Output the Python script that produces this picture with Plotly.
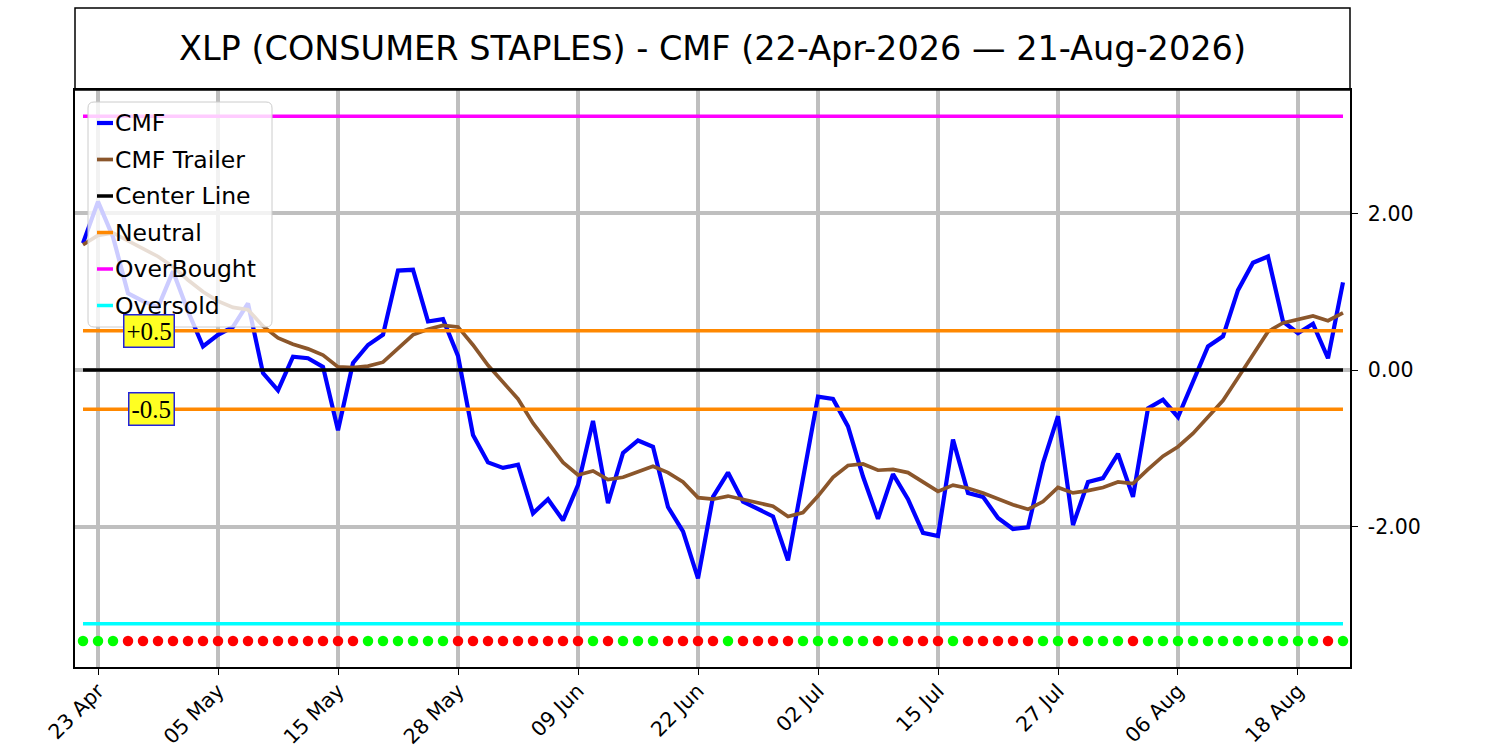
import pandas as pd
import plotly.graph_objects as go

TITLE = "XLP (CONSUMER STAPLES) - CMF (22-Apr-2026 — 21-Aug-2026)"

# trading days 22-Apr-2026 .. 21-Aug-2026 (NYSE holidays dropped)
HOLIDAYS = ["2026-05-25", "2026-06-19", "2026-07-03"]
dates = [d.strftime("%Y-%m-%d") for d in
         pd.bdate_range("2026-04-22", "2026-08-21", freq="C", holidays=HOLIDAYS)]

tick_dates = ["2026-04-23", "2026-05-05", "2026-05-15", "2026-05-28", "2026-06-09",
              "2026-06-22", "2026-07-02", "2026-07-15", "2026-07-27", "2026-08-06",
              "2026-08-18"]
tick_labels = ["23 Apr", "05 May", "15 May", "28 May", "09 Jun", "22 Jun",
               "02 Jul", "15 Jul", "27 Jul", "06 Aug", "18 Aug"]

cmf = [1.62, 2.15, 1.70, 0.98, 0.88, 0.80, 1.26, 0.75, 0.30, 0.45,
       0.55, 0.85, -0.04, -0.26, 0.17, 0.15, 0.04, -0.77, 0.09, 0.32,
       0.45, 1.27, 1.28, 0.62, 0.65, 0.18, -0.83, -1.18, -1.25, -1.21,
       -1.83, -1.65, -1.92, -1.47, -0.65, -1.70, -1.06, -0.90, -0.98, -1.75,
       -2.06, -2.66, -1.62, -1.31, -1.68, -1.77, -1.87, -2.43, -1.35, -0.34,
       -0.37, -0.72, -1.36, -1.90, -1.33, -1.65, -2.08, -2.12, -0.89, -1.57,
       -1.62, -1.89, -2.03, -2.01, -1.19, -0.59, -1.98, -1.43, -1.38, -1.07,
       -1.62, -0.49, -0.38, -0.60, -0.15, 0.30, 0.43, 1.02, 1.37, 1.45,
       0.62, 0.47, 0.59, 0.15, 1.12]

cmf_trailer = [1.60, 1.72, 1.75, 1.65, 1.55, 1.45, 1.32, 1.15, 1.00, 0.88,
               0.80, 0.77, 0.56, 0.41, 0.33, 0.27, 0.19, 0.04, 0.03, 0.05,
               0.10, 0.27, 0.45, 0.52, 0.57, 0.55, 0.32, 0.06, -0.16, -0.37,
               -0.68, -0.93, -1.18, -1.34, -1.29, -1.40, -1.37, -1.30, -1.23, -1.31,
               -1.43, -1.63, -1.65, -1.61, -1.65, -1.69, -1.74, -1.87, -1.82, -1.61,
               -1.37, -1.22, -1.20, -1.28, -1.27, -1.31, -1.43, -1.55, -1.47, -1.51,
               -1.57, -1.65, -1.72, -1.78, -1.68, -1.50, -1.57, -1.54, -1.50, -1.43,
               -1.45, -1.27, -1.10, -0.98, -0.81, -0.60, -0.39, -0.10, 0.20, 0.49,
               0.60, 0.65, 0.69, 0.63, 0.73]

# G = bullish dot, R = bearish dot (row under the chart)
signal = list("GGG" "RRRRRRRRRRRRRRRR" "GGGGGG" "RRRRRRRRR" "G" "R" "GGG" "RRRR"
              "G" "RRRR" "GGGGG" "R" "G" "RRR" "G" "RRRRR" "GG" "R" "GGG" "R"
              "GGGGGGGGGGGG" "R" "G")

CENTER = 0.0
NEUTRAL = 0.5
OVERBOUGHT = 3.24
OVERSOLD = -3.24
SIGNAL_ROW = -3.46

n = len(dates)
fig = go.Figure()

series = [
    ("CMF", cmf, "#0000ff", 4.2),
    ("CMF Trailer", cmf_trailer, "#8b562b", 3.7),
    ("Center Line", [CENTER] * n, "black", 3.5),
    ("Neutral", [NEUTRAL] * n, "#ff8800", 3.5),
    ("Neutral", [-NEUTRAL] * n, "#ff8800", 3.5),
    ("OverBought", [OVERBOUGHT] * n, "#ff00ff", 3.5),
    ("Oversold", [OVERSOLD] * n, "#00ffff", 3.5),
]
for name, ys, color, width in series:
    fig.add_trace(go.Scatter(x=dates, y=ys, name=name, mode="lines", showlegend=False,
                             line=dict(color=color, width=width)))

fig.add_trace(go.Scatter(
    x=dates, y=[SIGNAL_ROW] * n, mode="markers", showlegend=False,
    marker=dict(size=10.5, color=["#00ff00" if s == "G" else "#ff0000" for s in signal],
                line=dict(width=0)),
))

# plot box in pixels: x 75..1350, y 90..667
L, T, W, H = 75, 90, 1275, 577


def px(x):
    return (x - L) / W


def py(y):
    return 1 - (y - T) / H


# matplotlib-style legend, drawn by hand so the line samples stay short
x0, x1, y0, y1, r = 88, 272, 102, 327, 6
path = (f"M{px(x0 + r)},{py(y0)} L{px(x1 - r)},{py(y0)} "
        f"Q{px(x1)},{py(y0)} {px(x1)},{py(y0 + r)} L{px(x1)},{py(y1 - r)} "
        f"Q{px(x1)},{py(y1)} {px(x1 - r)},{py(y1)} L{px(x0 + r)},{py(y1)} "
        f"Q{px(x0)},{py(y1)} {px(x0)},{py(y1 - r)} L{px(x0)},{py(y0 + r)} "
        f"Q{px(x0)},{py(y0)} {px(x0 + r)},{py(y0)} Z")
fig.add_shape(type="path", path=path, xref="paper", yref="paper", layer="above",
              fillcolor="rgba(255,255,255,0.8)", line=dict(color="#cccccc", width=1))
seen = []
for name, _, color, width in series:
    if name in seen:
        continue
    cy = 123 + 36.5 * len(seen)
    seen.append(name)
    fig.add_shape(type="line", xref="paper", yref="paper", layer="above",
                  x0=px(97), x1=px(113), y0=py(cy), y1=py(cy),
                  line=dict(color=color, width=width))
    fig.add_annotation(xref="paper", yref="paper", x=px(113), y=py(cy), text=name,
                       xanchor="left", yanchor="middle", showarrow=False,
                       font=dict(family="DejaVu Sans", size=23.5, color="black"))

label_style = dict(xref="x", yref="y", xanchor="right", showarrow=False,
                   font=dict(family="Liberation Serif", size=25, color="black"),
                   bgcolor="#ffff22", bordercolor="#2222dd", borderwidth=1.5, borderpad=2)
fig.add_annotation(x=6.13, y=NEUTRAL, text="+0.5", **label_style)
fig.add_annotation(x=6.13, y=-NEUTRAL, text="-0.5", **label_style)

# boxed title strip above the plot
fig.add_shape(type="rect", xref="paper", yref="paper", x0=0, x1=1, y0=1, y1=py(8),
              line=dict(color="black", width=1.5), layer="above")
fig.add_annotation(xref="paper", yref="paper", x=0.5, y=py(49), text=TITLE,
                   showarrow=False, yanchor="middle",
                   font=dict(family="DejaVu Sans", size=33.5, color="black"))

grid = "#bfbfbf"
fig.update_layout(
    width=1500, height=750, autosize=False,
    margin=dict(l=L, r=1500 - L - W, t=T, b=750 - T - H),
    paper_bgcolor="white", plot_bgcolor="white",
    font=dict(family="DejaVu Sans", color="black"),
    showlegend=False,
    xaxis=dict(type="category", categoryorder="array", categoryarray=dates,
               range=[-0.533, n - 1 + 0.467], automargin=False,
               tickmode="array", tickvals=tick_dates, ticktext=tick_labels,
               tickangle=-45, tickfont=dict(size=20.5), ticklabelstandoff=-4,
               ticks="outside", ticklen=6, tickcolor="black",
               showgrid=True, gridcolor=grid, gridwidth=4,
               showline=True, linecolor="black", linewidth=1.5, mirror=True,
               zeroline=False),
    yaxis=dict(side="right", range=[-3.793, 3.576], automargin=False,
               tickmode="array", tickvals=[-2, 0, 2], ticktext=["-2.00", "0.00", "2.00"],
               tickfont=dict(size=20.5), ticks="outside", ticklen=6, tickcolor="black",
               ticklabelstandoff=6,
               showgrid=True, gridcolor=grid, gridwidth=4,
               showline=True, linecolor="black", linewidth=1.5, mirror=True,
               zeroline=False),
)

# the page's default body margin would push the figure off the window
fig.write_html("out.html", config={"displayModeBar": False},
               post_script="document.body.style.margin='0';document.body.style.overflow='hidden';")
